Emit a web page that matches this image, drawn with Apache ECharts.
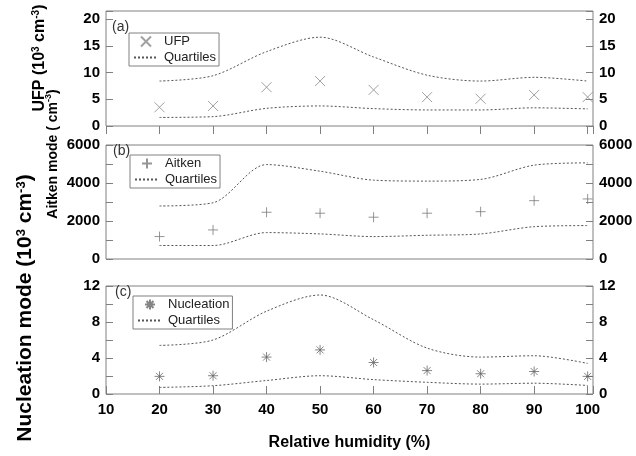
<!DOCTYPE html>
<html>
<head>
<meta charset="utf-8">
<script src="https://cdn.jsdelivr.net/npm/echarts@6/dist/echarts.min.js"></script>
<style>html,body{margin:0;padding:0;background:#fff;}#c{width:636px;height:456px;}</style>
</head>
<body>
<div id="c"></div>
<script>
const humidity = [20, 30, 40, 50, 60, 70, 80, 90, 100];
const xTickLabels = [10, 20, 30, 40, 50, 60, 70, 80, 90, 100];

const ufpMedian = [3.5, 3.75, 7.25, 8.4, 6.75, 5.4, 5.1, 5.8, 5.4];
const ufpUpper  = [8.4, 9.4, 13.9, 16.6, 12.9, 9.5, 8.4, 9.1, 8.4];
const ufpLower  = [1.6, 1.75, 3.3, 3.75, 3.25, 3.0, 3.0, 3.4, 3.2];

const aitkenMedian = [1180, 1530, 2460, 2410, 2200, 2410, 2490, 3070, 3160];
const aitkenUpper  = [2790, 2960, 4970, 4620, 4150, 4100, 4190, 4940, 5060];
const aitkenLower  = [710, 710, 1390, 1320, 1180, 1250, 1320, 1700, 1760];

const nucMedian = [1.96, 2.03, 4.1, 4.9, 3.5, 2.6, 2.25, 2.5, 1.96];
const nucUpper  = [5.4, 6.0, 9.2, 11.0, 8.25, 5.1, 4.1, 4.25, 3.4];
const nucLower  = [0.73, 0.92, 1.5, 2.03, 1.6, 1.3, 1.1, 1.2, 0.95];

const ufpTicks = [0, 5, 10, 15, 20];
const aitkenTicks = [0, 2000, 4000, 6000];
const nucTicks = [0, 4, 8, 12];

const FONT = "'Liberation Sans', Arial, sans-serif";
const AXIS_COLOR = '#808080';
const pts = vals => humidity.map((h, i) => [h, vals[i]]);

const grids = [
  {left: 106, right: 43, top: 11, height: 115},
  {left: 106, right: 43, top: 145, height: 114},
  {left: 106, right: 43, top: 286, height: 108}
].map(g => Object.assign(g, {show: true, borderColor: AXIS_COLOR, borderWidth: 1, backgroundColor: 'transparent'}));

function xAxisFor(i) {
  const base = {
    gridIndex: i, type: 'value', min: 10, max: 101, interval: 10,
    axisLine: {show: false}, splitLine: {show: false},
    axisTick: {show: i !== 1, inside: true, length: 8, lineStyle: {color: AXIS_COLOR}},
    axisLabel: {show: false}
  };
  if (i === 0) base.position = 'top';
  if (i === 2) {
    base.position = 'bottom';
    base.axisLabel = {
      show: true, margin: 8, color: '#000', fontSize: 15, fontWeight: 'bold', fontFamily: FONT,
      formatter: v => (xTickLabels.indexOf(v) >= 0 ? String(v) : '')
    };
    base.name = 'Relative humidity (%)';
    base.nameLocation = 'middle';
    base.nameGap = 41;
    base.nameTextStyle = {color: '#000', fontSize: 16, fontWeight: 'bold', fontFamily: FONT};
  }
  return base;
}

function yAxisFor(i, pos, max, interval, labels) {
  return {
    gridIndex: i, type: 'value', position: pos, min: 0, max: max, interval: interval,
    axisLine: {show: false}, splitLine: {show: false},
    axisTick: {show: true, inside: true, length: 7, lineStyle: {color: AXIS_COLOR}},
    axisLabel: {
      show: true, margin: 6, color: '#000', fontSize: 15, fontWeight: 'bold', fontFamily: FONT,
      formatter: v => (labels.indexOf(v) >= 0 ? String(v) : '')
    }
  };
}

const yAxes = [];
[[21.5, 5, ufpTicks], [6000, 1000, aitkenTicks], [12, 2, nucTicks]].forEach((c, i) => {
  yAxes.push(yAxisFor(i, 'left', c[0], c[1], c[2]));
  yAxes.push(yAxisFor(i, 'right', c[0], c[1], c[2]));
});

const SYM_X = 'path://M0,0L10,10M10,0L0,10';
const SYM_PLUS = 'path://M5,0L5,10M0,5L10,5';
const SYM_STAR = 'path://M5,0L5,10M0,5L10,5M1.5,1.5L8.5,8.5M8.5,1.5L1.5,8.5';

function scatter(name, i, vals, sym, color) {
  return {
    name: name, type: 'scatter', xAxisIndex: i, yAxisIndex: i * 2,
    data: pts(vals), symbol: sym, symbolSize: 10,
    itemStyle: {color: 'transparent', borderColor: color, borderWidth: 1},
    emphasis: {disabled: true}, z: 3
  };
}
function quart(i, vals) {
  return {
    name: 'Quartiles', type: 'line', xAxisIndex: i, yAxisIndex: i * 2,
    data: pts(vals), symbol: 'none', showSymbol: false, smooth: 0.3,
    lineStyle: {color: '#555', width: 1, type: [2, 2]},
    itemStyle: {color: 'transparent', borderColor: 'transparent', borderWidth: 0},
    emphasis: {disabled: true}, z: 2
  };
}

const series = [
  scatter('UFP', 0, ufpMedian, SYM_X, '#8a8a8a'),
  quart(0, ufpUpper), quart(0, ufpLower),
  scatter('Aitken', 1, aitkenMedian, SYM_PLUS, '#7a7a7a'),
  quart(1, aitkenUpper), quart(1, aitkenLower),
  scatter('Nucleation', 2, nucMedian, SYM_STAR, '#666'),
  quart(2, nucUpper), quart(2, nucLower)
];

function legendFor(names, left, top) {
  return {
    data: names, left: left, top: top, orient: 'vertical',
    padding: [2, 3, 2, 4], itemGap: 3, itemWidth: 24, itemHeight: 10,
    borderColor: '#808080', borderWidth: 1, backgroundColor: '#fff',
    selectedMode: false,
    textStyle: {color: '#222', fontSize: 13, fontFamily: FONT, padding: [0, 0, 0, 1]}
  };
}

function rich(size, sub) {
  return {
    b: {fontSize: size, fontWeight: 'bold', fontFamily: FONT, fill: '#000'},
    s: {fontSize: sub, fontWeight: 'bold', fontFamily: FONT, fill: '#000', verticalAlign: 'top', padding: [0, 0, 8, 0]}
  };
}

function vTitle(text, cx, cy, size, sub) {
  return {
    type: 'text', x: cx, y: cy, rotation: Math.PI / 2,
    style: {text: text, rich: rich(size, sub), align: 'center', verticalAlign: 'middle'}
  };
}
function panelLabel(t, x, y) {
  return {type: 'text', x: x, y: y, style: {text: t, fontSize: 14, fontFamily: FONT, fill: '#333', verticalAlign: 'middle'}};
}

const option = {
  animation: false,
  backgroundColor: '#fff',
  grid: grids,
  xAxis: [0, 1, 2].map(xAxisFor),
  yAxis: yAxes,
  legend: [
    legendFor(['UFP', 'Quartiles'], 129, 33),
    legendFor(['Aitken', 'Quartiles'], 130, 155),
    legendFor(['Nucleation', 'Quartiles'], 133, 296)
  ],
  series: series,
  graphic: [
    vTitle('{b|UFP (10}{s|3}{b| cm}{s|-3}{b|)}', 40, 58, 16, 10),
    vTitle('{b|Aitken mode ( cm}{s|-3}{b|)}', 53, 154, 14, 9),
    vTitle('{b|Nucleation mode (10}{s|3}{b| cm}{s|-3}{b|)}', 25, 308, 21, 13),
    panelLabel('(a)', 112, 27),
    panelLabel('(b)', 113, 151),
    panelLabel('(c)', 115, 292)
  ]
};

const chart = echarts.init(document.getElementById('c'), null, {renderer: 'canvas'});
chart.setOption(option);
</script>
</body>
</html>
